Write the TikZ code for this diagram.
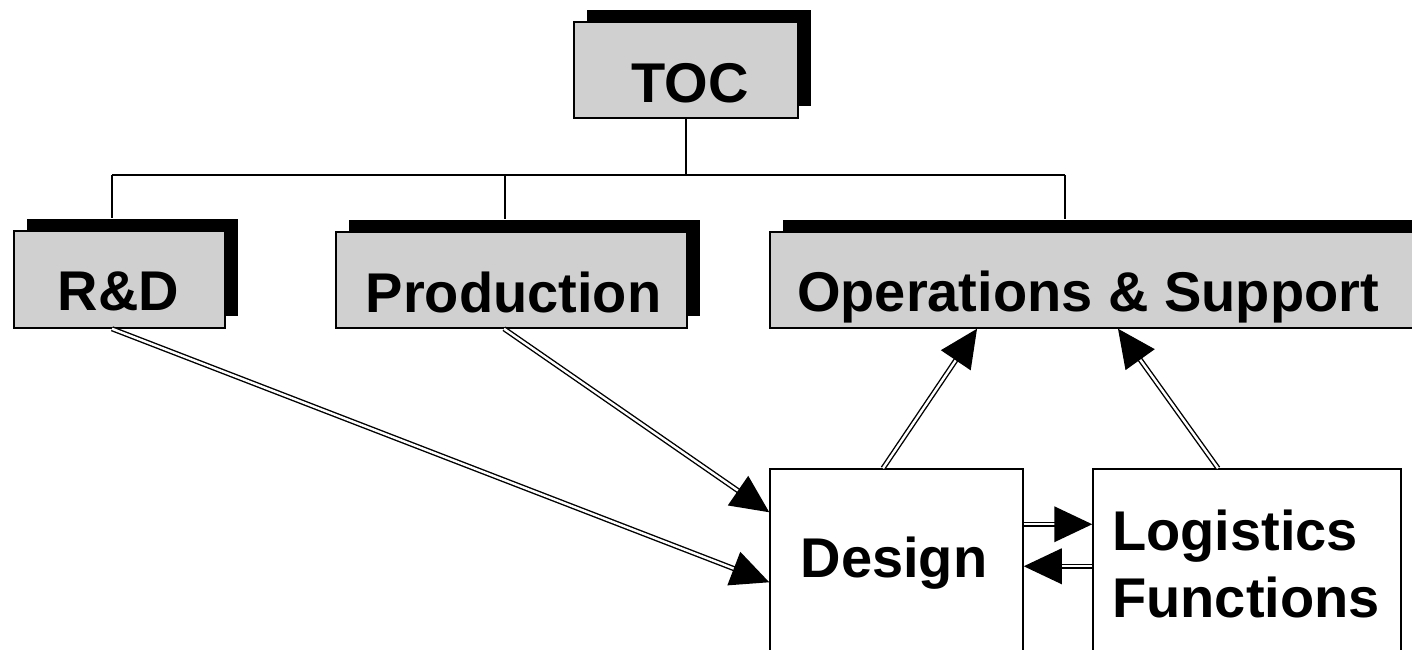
\documentclass[tikz,border=0pt]{standalone}
\usepackage{fontspec}
\setmainfont{Liberation Sans}
\usetikzlibrary{calc,shadows}
\definecolor{boxgray}{RGB}{208,208,208}
\tikzset{
  gbox/.style={draw=black, line width=1.5pt, fill=boxgray, inner sep=0pt,
    general shadow={fill=black, shadow xshift=12.5pt, shadow yshift=12pt}},
  wbox/.style={draw=black, line width=1.5pt, fill=white, inner sep=0pt},
  lbl/.style={inner sep=0pt, font=\fontsize{56}{67}\selectfont\bfseries},
  tree/.style={line width=1.5pt},
  dbl/.style={double=white, line width=1.4pt, double distance=2.4pt},
}
\newcommand{\dblarr}[2]{%
  \draw[dbl] (#1) -- ($(#2)!34pt!(#1)$);
  \coordinate (tmpb) at ($(#2)!38pt!(#1)$);
  \fill (#2) -- ($(tmpb)!18pt!90:(#2)$) -- ($(tmpb)!18pt!-90:(#2)$) -- cycle;
}
\begin{document}
\begin{tikzpicture}[x=1pt,y=-1pt]
\useasboundingbox (0,0) rectangle (1412,649);
\clip (0,0) rectangle (1412,649);
% boxes
\coordinate (busY) at (0,175);
\node[gbox, minimum width=224pt, minimum height=96pt] (toc) at (686,70) {};
\node[gbox, minimum width=211pt, minimum height=97pt] (rd) at (119.5,279.5) {};
\node[gbox, minimum width=351pt, minimum height=96pt] (pr) at (511.5,280) {};
\node[gbox, minimum width=660pt, minimum height=96pt] (op) at (1100,280) {};
\node[wbox, minimum width=253pt, minimum height=221pt] (de) at (896.5,579.5) {};
\node[wbox, minimum width=308pt, minimum height=221pt] (lo) at (1247,579.5) {};
% tree lines
\coordinate (rdN) at ([xshift=-7.5pt]rd.north);
\coordinate (prN) at ([xshift=-6.5pt]pr.north);
\coordinate (opN) at ([xshift=-35pt]op.north);
\draw[tree] (toc.south) -- (toc.south |- busY);
\draw[tree] (rdN |- busY) -- (opN |- busY);
\draw[tree] (rdN |- busY) -- ([yshift=12pt]rdN);
\draw[tree] (prN |- busY) -- ([yshift=12pt]prN);
\draw[tree] (opN |- busY) -- ([yshift=12pt]opN);
% labels
\node[lbl, anchor=base] (toct) at (690,102) {TOC};
\node[lbl, anchor=base] (rdt) at (118.5,310) {R\&D};
\node[lbl, anchor=base] (prt) at (513.5,312) {Production};
\node[lbl, anchor=base] (opt) at (1088,311) {Operations \& Support};
\node[lbl, anchor=base] (det) at (894,577) {Design};
\node[lbl, anchor=base west] (lot1) at (1112,550) {Logistics};
\node[lbl, anchor=base west] (lot2) at (1112,617) {Functions};
% arrows
\coordinate (a1s) at ([xshift=-7.5pt]rd.south);
\coordinate (a1e) at ([yshift=-114pt]de.north west);
\coordinate (a2s) at ([xshift=-7.5pt]pr.south);
\coordinate (a2e) at ([yshift=-44pt]de.north west);
\coordinate (a3s) at ([xshift=-13.5pt]de.north);
\coordinate (a3e) at ([xshift=-123pt]op.south);
\coordinate (a4s) at ([xshift=-29pt]lo.north);
\coordinate (a4e) at ([xshift=18pt]op.south);
\coordinate (a5s) at ([yshift=-56pt]de.north east);
\coordinate (a5e) at ([yshift=-56pt]lo.north west);
\coordinate (a6s) at ([yshift=-98pt]lo.north west);
\coordinate (a6e) at ([yshift=-98pt]de.north east);
\dblarr{a1s}{a1e}
\dblarr{a2s}{a2e}
\dblarr{a3s}{a3e}
\dblarr{a4s}{a4e}
\dblarr{a5s}{a5e}
\dblarr{a6s}{a6e}
\end{tikzpicture}
\end{document}
